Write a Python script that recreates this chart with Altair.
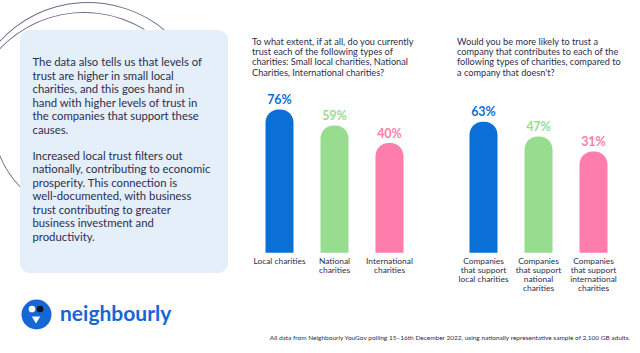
import math
import altair as alt
import pandas as pd

# ---------------- data ----------------
intro_par1 = [
    "The data also tells us that levels of",
    "trust are higher in small local",
    "charities, and this goes hand in",
    "hand with higher levels of trust in",
    "the companies that support these",
    "causes.",
]
intro_par2 = [
    "Increased local trust filters out",
    "nationally, contributing to economic",
    "prosperity. This connection is",
    "well-documented, with business",
    "trust contributing to greater",
    "business investment and",
    "productivity.",
]
q1_title = [
    "To what extent, if at all, do you currently",
    "trust each of the following types of",
    "charities: Small local charities, National",
    "Charities, International charities?",
]
q2_title = [
    "Would you be more likely to trust a",
    "company that contributes to each of the",
    "following types of charities, compared to",
    "a company that doesn't?",
]
q1_categories = ["Local charities", "National\ncharities", "International\ncharities"]
q1_values = [76, 59, 40]
q2_categories = [
    "Companies\nthat support\nlocal charities",
    "Companies\nthat support\nnational\ncharities",
    "Companies\nthat support\ninternational\ncharities",
]
q2_values = [63, 47, 31]
footer_text = ("All data from Neighbourly YouGov polling 15\u201316th December 2022, "
               "using nationally representative sample of 2,100 GB adults.")
brand = "neighbourly"

# ---------------- style ----------------
FONT = "Lato"
INK = "#2c2e4f"
BAR_COLORS = ["#0b6fd8", "#98dd8f", "#fe7dab"]
BASE = -78
YDOM = [-186, 194]
H = 353
TAU = 2 * math.pi

one = alt.Data(values=[{}])


def bar_panel(categories, values, title_lines, width, title_x):
    df = pd.DataFrame({"cat": categories, "value": values,
                       "label": [f"{v}%" for v in values]})
    xenc = alt.X("cat:N", sort=categories, axis=None,
                 scale=alt.Scale(domain=categories, range=[0, 165],
                                 paddingInner=0, paddingOuter=0))
    yscale = alt.Scale(domain=YDOM, nice=False, zero=False)
    color = alt.Color("cat:N", sort=categories, legend=None,
                      scale=alt.Scale(domain=categories, range=BAR_COLORS))
    base = alt.Chart(df)
    bars = base.mark_bar(size=28, cornerRadiusTopLeft=13, cornerRadiusTopRight=13).encode(
        x=xenc,
        y=alt.Y("value:Q", scale=yscale, axis=None),
        y2=alt.datum(BASE),
        color=color,
    )
    vals = base.mark_text(font=FONT, fontWeight="bold", fontSize=12.5,
                          baseline="middle", dy=-9.5).encode(
        x=xenc, y=alt.Y("value:Q", scale=yscale, axis=None),
        text="label:N", color=color,
    )
    cats = base.mark_text(font=FONT, fontSize=8.4, lineHeight=9, baseline="top",
                          lineBreak="\n", dy=4.5, color=INK).encode(
        x=xenc, y=alt.datum(BASE), text="cat:N",
    )
    title = alt.Chart(one).mark_text(font=FONT, fontSize=9.2, lineHeight=10.2,
                                     align="left", baseline="top", color=INK,
                                     text=title_lines).encode(
        x=alt.value(title_x), y=alt.value(38),
    )
    return alt.layer(bars, vals, cats, title).properties(width=width, height=H)


# ---------------- left panel ----------------
arcs = []
for cx, cy, r, t0, t1 in [(88, 122, 120, -0.85, 0.72), (84, 128, 116, -1.15, 0.55),
                          (92, 118, 100, -2.35, -1.85)]:
    arcs.append(alt.Chart(one).mark_arc(radius=r, radius2=r - 0.9,
                                        theta=t0 + TAU, theta2=t1 + TAU,
                                        color="#3a3b5c", opacity=0.75,
                                        clip=True).encode(
        x=alt.value(cx), y=alt.value(cy)))

box = alt.Chart(one).mark_rect(cornerRadius=10, color="#e4effa").encode(
    x=alt.value(20), x2=alt.value(228), y=alt.value(30), y2=alt.value(273))
p1 = alt.Chart(one).mark_text(font=FONT, fontSize=11.3, lineHeight=13.5, align="left",
                              baseline="top", color=INK, text=intro_par1).encode(
    x=alt.value(32.5), y=alt.value(57))
p2 = alt.Chart(one).mark_text(font=FONT, fontSize=11.3, lineHeight=13.5, align="left",
                              baseline="top", color=INK, text=intro_par2).encode(
    x=alt.value(32.5), y=alt.value(150.5))
logo_c = alt.Chart(one).mark_point(filled=True, shape="circle", size=900,
                                   color="#1567d5", opacity=1).encode(
    x=alt.value(36.5), y=alt.value(314.5))
head1 = alt.Chart(one).mark_point(filled=True, shape="circle", size=45,
                                  color="#ffffff", opacity=1).encode(
    x=alt.value(32), y=alt.value(309))
head2 = alt.Chart(one).mark_point(filled=True, shape="circle", size=45,
                                  color="#111111", opacity=1).encode(
    x=alt.value(40), y=alt.value(309))
body = alt.Chart(one).mark_point(filled=True, shape="triangle-down", size=70,
                                 color="#ffffff", opacity=1).encode(
    x=alt.value(36), y=alt.value(320))
logo_t = alt.Chart(one).mark_text(font=FONT, fontWeight="bold", fontSize=21,
                                  align="left", baseline="alphabetic", color="#1567d5",
                                  text=brand).encode(
    x=alt.value(60), y=alt.value(321))

left = alt.layer(*arcs, box, p1, p2, logo_c, head1, head2, body, logo_t).properties(
    width=252, height=H)

chart_b = bar_panel(q1_categories, q1_values, q1_title, 204, 0)

footer = alt.Chart(one).mark_text(font=FONT, fontSize=6.5, align="right",
                                  baseline="middle", color=INK, text=footer_text).encode(
    x=alt.value(174), y=alt.value(337.5))
chart_c = alt.layer(bar_panel(q2_categories, q2_values, q2_title, 184, 1), footer)

chart = alt.hconcat(left, chart_b, chart_c, spacing=0, bounds="flush").properties(
    padding=0, background="#ffffff"
).configure_view(stroke=None).configure_concat(spacing=0)

chart.save("out.html", embed_options={"renderer": "svg", "actions": False})
